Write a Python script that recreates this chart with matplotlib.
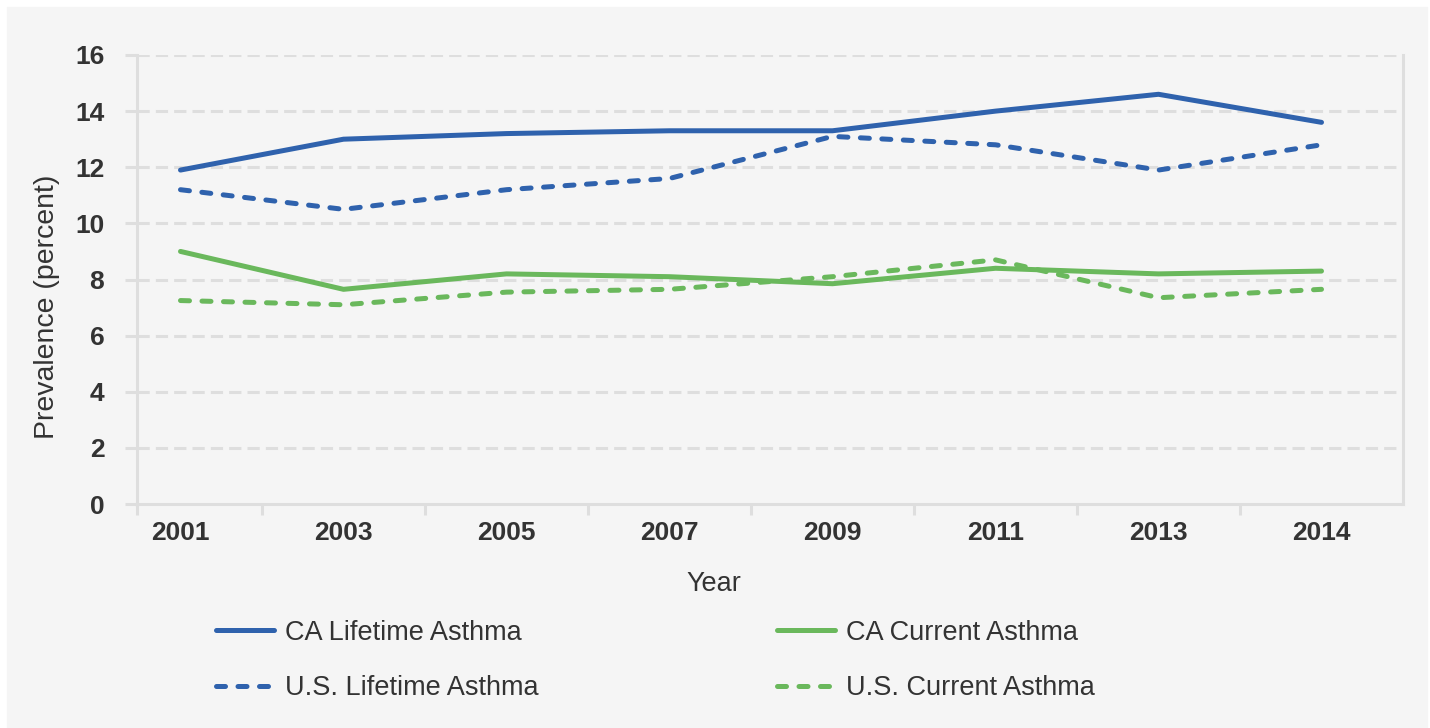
import matplotlib.pyplot as plt
import numpy as np

# данные
years = ['2001', '2003', '2005', '2007', '2009', '2011', '2013', '2014']
ca_lifetime = [11.9, 13.0, 13.2, 13.3, 13.3, 14.0, 14.6, 13.6]
us_lifetime = [11.2, 10.5, 11.2, 11.6, 13.1, 12.8, 11.9, 12.8]
ca_current = [9.0, 7.65, 8.2, 8.1, 7.85, 8.4, 8.2, 8.3]
us_current = [7.25, 7.1, 7.55, 7.65, 8.1, 8.7, 7.35, 7.65]
y_ticks = [0, 2, 4, 6, 8, 10, 12, 14, 16]

blue = '#2f62ad'
green = '#6ab85c'
grid_c = '#dedede'
text_c = '#333333'
bg = '#f5f5f5'

plt.rcParams['font.family'] = ['Liberation Sans', 'DejaVu Sans']

fig = plt.figure(figsize=(14.3, 7.28), dpi=100, facecolor='white')
# серый фон с белой рамкой сверху и слева
fig.patches.append(plt.Rectangle((7 / 1430, 0), 1420 / 1430, 1 - 7 / 728,
                                 transform=fig.transFigure, color=bg, zorder=-10))

ax = fig.add_axes([137 / 1430, 1 - 504 / 728, 1266 / 1430, 449 / 728])
ax.set_facecolor(bg)

x = np.arange(len(years))
dash = (1.8, 2.5)
l1, = ax.plot(x, ca_lifetime, color=blue, lw=3.6, solid_capstyle='round', label='CA Lifetime Asthma')
l2, = ax.plot(x, us_lifetime, color=blue, lw=3.6, dashes=dash, dash_capstyle='round', label='U.S. Lifetime Asthma')
l3, = ax.plot(x, ca_current, color=green, lw=3.6, solid_capstyle='round', label='CA Current Asthma')
l4, = ax.plot(x, us_current, color=green, lw=3.6, dashes=dash, dash_capstyle='round', label='U.S. Current Asthma')

ax.set_ylim(0, 16)
ax.set_xlim(7.5 - 1266 / 163, 7.5)
ax.set_yticks(y_ticks)
for v in y_ticks[1:]:
    ax.axhline(v, color=grid_c, lw=2.2, dashes=(4, 2), zorder=0)

ax.set_xticks(x)
ax.set_xticklabels(years)
ax.set_xticks(list(np.arange(0.5, 7.5, 1)) + [ax.get_xlim()[0]], minor=True)

ax.spines['top'].set_visible(False)
for s in ['left', 'right', 'bottom']:
    ax.spines[s].set_color(grid_c)
    ax.spines[s].set_linewidth(2.2)

ax.tick_params(axis='x', which='major', length=0, pad=12, labelsize=19, labelcolor=text_c)
ax.tick_params(axis='x', which='minor', length=8, width=2.2, color=grid_c)
ax.tick_params(axis='y', length=9, width=2.2, color=grid_c, pad=14.5, labelsize=19, labelcolor=text_c)
for lab in ax.get_xticklabels() + ax.get_yticklabels():
    lab.set_fontweight('bold')

fig.text(47 / 1430, 1 - 307 / 728, 'Prevalence (percent)', rotation=90, ha='center', va='center',
         fontsize=20.5, color=text_c)
fig.text(714 / 1430, 1 - 584 / 728, 'Year', ha='center', va='center', fontsize=19.5, color=text_c)

leg = fig.legend(handles=[l1, l2, l3, l4], ncol=2, loc='upper left',
                 bbox_to_anchor=(202 / 1430, 1 - 606 / 728), frameon=False,
                 fontsize=19.5, handlelength=2.15, handletextpad=0.4,
                 columnspacing=8.8, labelspacing=1.1, borderpad=0)
for t in leg.get_texts():
    t.set_color(text_c)

fig.savefig('out.png', dpi=100, facecolor=fig.get_facecolor())
